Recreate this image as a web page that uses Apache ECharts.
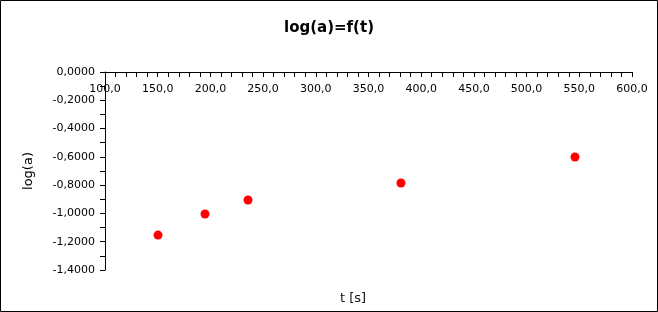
<!DOCTYPE html>
<html><head><meta charset="utf-8">
<script src="https://cdn.jsdelivr.net/npm/echarts@6/dist/echarts.min.js"></script>
<style>html,body{margin:0;padding:0;background:#fff}#c{width:658px;height:312px}</style>
</head><body><div id="c"></div>
<script>
const titleText = 'log(a)=f(t)';
const xName = 't [s]';
const yName = 'log(a)';
const tValues = [150.3, 194.9, 235.7, 380.8, 545.9];
const logA = [-1.153, -1.004, -0.905, -0.785, -0.601];

const chart = echarts.init(document.getElementById('c'), null, {renderer: 'canvas'});
const font = 'DejaVu Sans';
chart.setOption({
  animation: false,
  backgroundColor: '#fff',
  title: [{
    text: titleText, left: 'center', top: 16,
    textStyle: {fontFamily: font, fontSize: 15, fontWeight: 'bold', color: '#000'}
  }, {
    text: xName, left: 335, top: 287,
    textStyle: {fontFamily: font, fontSize: 13, fontWeight: 'normal', color: '#111'}
  }],
  grid: {left: 105, right: 26, top: 72, bottom: 42, containLabel: false},
  xAxis: {
    type: 'value', position: 'top', min: 100, max: 600, interval: 50,
    axisLine: {show: true, lineStyle: {color: '#000', width: 1}},
    axisTick: {show: true, inside: true, length: 5, lineStyle: {color: '#000'}},
    minorTick: {show: true, splitNumber: 5, length: 5, lineStyle: {color: '#000'}},
    splitLine: {show: false},
    axisLabel: {inside: true, margin: 12, color: '#000', fontFamily: font, fontSize: 11,
      formatter: v => v.toFixed(1).replace('.', ',')}
  },
  yAxis: {
    type: 'value', min: -1.4, max: 0, interval: 0.2,
    name: yName, nameLocation: 'middle', nameGap: 70,
    nameTextStyle: {fontFamily: font, fontSize: 13, color: '#000'},
    axisLine: {show: true, lineStyle: {color: '#000', width: 1}},
    axisTick: {show: true, length: 5, lineStyle: {color: '#000'}},
    minorTick: {show: true, splitNumber: 2, length: 5, lineStyle: {color: '#000'}},
    splitLine: {show: false},
    axisLabel: {margin: 10, color: '#000', fontFamily: font, fontSize: 11,
      formatter: v => v.toFixed(4).replace('.', ',')}
  },
  series: [{
    type: 'scatter', symbol: 'circle', symbolSize: 9,
    itemStyle: {color: '#ff0000', opacity: 1},
    data: tValues.map((t, i) => [t, logA[i]])
  }],
  graphic: [{
    type: 'rect', z: 100,
    shape: {x: 0.5, y: 0.5, width: 657, height: 311},
    style: {fill: 'none', stroke: '#000', lineWidth: 1}
  }]
});
</script></body></html>
